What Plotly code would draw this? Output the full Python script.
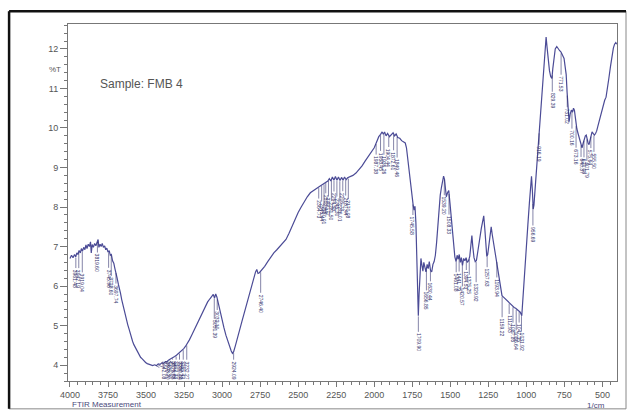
import numpy as np
import plotly.graph_objects as go

# ---- Spectrum data (wavenumber in 1/cm, %T) ----
wavenumber = [
    4000, 3990, 3980, 3970, 3962, 3955, 3948, 3940, 3932, 3925, 3918, 3910, 3902, 3895,
    3888, 3880, 3872, 3865, 3860, 3854, 3846, 3838, 3830, 3822, 3815, 3810, 3802, 3795,
    3788, 3780, 3772, 3765, 3758, 3750, 3742, 3735, 3728, 3720, 3712, 3705, 3698, 3690,
    3682, 3675, 3668, 3660, 3652, 3645, 3636, 3628, 3620, 3612, 3604, 3596, 3588, 3580,
    3572, 3564, 3555, 3546, 3536, 3525, 3514, 3503, 3492, 3480, 3468, 3456, 3444, 3432,
    3420, 3408, 3396, 3384, 3372, 3360, 3348, 3336, 3324, 3312, 3300, 3288, 3276, 3264,
    3252, 3240, 3228, 3215, 3200, 3185, 3170, 3155, 3140, 3125, 3110, 3095, 3080, 3068,
    3058, 3050, 3042, 3034, 3025, 3012, 3000, 2988, 2975, 2962, 2950, 2940, 2932, 2924,
    2912, 2898, 2884, 2870, 2856, 2842, 2828, 2815, 2802, 2790, 2780, 2772, 2764, 2755,
    2740, 2720, 2700, 2680, 2660, 2640, 2620, 2600, 2580, 2560, 2540, 2520, 2500, 2480,
    2460, 2440, 2420, 2400, 2380, 2360, 2345, 2330, 2318, 2305, 2295, 2285, 2275, 2265,
    2255, 2245, 2235, 2225, 2215, 2205, 2195, 2185, 2175, 2160, 2140, 2120, 2100, 2080,
    2060, 2040, 2020, 2000, 1985, 1970, 1958, 1948, 1940, 1932, 1922, 1912, 1900, 1888,
    1876, 1866, 1856, 1845, 1832, 1820, 1808, 1796, 1788, 1780, 1772, 1765, 1758, 1750,
    1744, 1738, 1732, 1726, 1720, 1715, 1710, 1705, 1700, 1693, 1686, 1680, 1674, 1667,
    1660, 1652, 1645, 1638, 1630, 1622, 1614, 1606, 1598, 1590, 1582, 1574, 1566, 1558,
    1550, 1544, 1538, 1532, 1526, 1518, 1510, 1502, 1496, 1490, 1484, 1477, 1470, 1462,
    1455, 1448, 1441, 1434, 1427, 1420, 1412, 1404, 1396, 1388, 1380, 1372, 1364, 1358,
    1352, 1344, 1336, 1328, 1320, 1312, 1304, 1296, 1288, 1280, 1272, 1266, 1260, 1254,
    1246, 1238, 1231, 1224, 1216, 1208, 1200, 1192, 1184, 1176, 1168, 1160, 1150, 1140,
    1130, 1120, 1110, 1100, 1090, 1080, 1070, 1060, 1050, 1040, 1030, 1020, 1010, 1000,
    990, 980, 972, 966, 960, 955, 950, 940, 930, 920, 912, 902, 892, 882,
    875, 870, 864, 856, 848, 840, 832, 826, 818, 810, 800, 792, 782, 772,
    762, 752, 745, 738, 732, 726, 719, 712, 704, 696, 690, 684, 676, 668,
    660, 654, 646, 640, 634, 626, 618, 612, 606, 600, 594, 588, 580, 574,
    568, 560, 552, 545, 538, 530, 522, 512, 503, 494, 485, 476, 466, 457,
    447, 437, 428, 420, 412, 406,
]
transmittance = [
    6.70, 6.78, 6.72, 6.80, 6.74, 6.84, 6.80, 6.90, 6.84, 6.95, 6.88, 6.98, 6.92, 7.04,
    6.95, 7.06, 7.00, 7.12, 6.84, 7.05, 6.98, 7.08, 7.02, 7.12, 7.18, 6.98, 7.06, 7.00,
    7.08, 6.98, 7.02, 6.92, 6.96, 6.86, 6.90, 6.78, 6.80, 6.64, 6.58, 6.45, 6.36, 6.20,
    6.05, 5.95, 5.82, 5.66, 5.52, 5.42, 5.28, 5.14, 5.02, 4.92, 4.80, 4.68, 4.60, 4.52,
    4.46, 4.40, 4.32, 4.27, 4.20, 4.16, 4.10, 4.07, 4.04, 4.02, 4.01, 3.99, 4.01, 3.99,
    4.03, 4.02, 4.06, 4.05, 4.09, 4.10, 4.14, 4.16, 4.20, 4.22, 4.25, 4.29, 4.33, 4.37,
    4.42, 4.48, 4.55, 4.64, 4.76, 4.88, 5.02, 5.14, 5.26, 5.38, 5.50, 5.60, 5.68, 5.76,
    5.79, 5.70, 5.80, 5.72, 5.56, 5.36, 5.16, 4.95, 4.76, 4.60, 4.46, 4.36, 4.30, 4.34,
    4.50, 4.68, 4.88, 5.10, 5.30, 5.50, 5.70, 5.92, 6.10, 6.24, 6.36, 6.42, 6.32, 6.34,
    6.40, 6.50, 6.62, 6.74, 6.84, 6.92, 7.00, 7.08, 7.18, 7.34, 7.52, 7.70, 7.86, 8.00,
    8.14, 8.26, 8.36, 8.42, 8.46, 8.52, 8.56, 8.60, 8.64, 8.66, 8.72, 8.66, 8.76, 8.68,
    8.77, 8.68, 8.76, 8.67, 8.75, 8.68, 8.76, 8.69, 8.74, 8.76, 8.80, 8.86, 8.94, 9.04,
    9.16, 9.28, 9.40, 9.50, 9.64, 9.78, 9.84, 9.90, 9.84, 9.90, 9.80, 9.86, 9.78, 9.84,
    9.88, 9.80, 9.85, 9.76, 9.74, 9.68, 9.66, 9.62, 9.50, 9.22, 8.95, 8.70, 8.45, 8.20,
    8.05, 7.92, 8.02, 7.60, 6.90, 6.10, 5.25, 5.80, 6.40, 6.70, 6.52, 6.38, 6.60, 6.42,
    6.36, 6.55, 6.44, 6.62, 6.40, 6.36, 6.55, 6.62, 6.78, 7.10, 7.60, 7.95, 8.30, 8.50,
    8.62, 8.78, 8.70, 8.40, 8.26, 8.36, 8.42, 8.10, 7.80, 7.50, 7.20, 6.95, 6.74, 6.62,
    6.78, 6.68, 6.80, 6.60, 6.72, 6.52, 6.70, 6.64, 6.72, 6.60, 6.64, 6.75, 7.05, 7.28,
    7.00, 6.72, 6.62, 6.65, 6.85, 7.10, 7.32, 7.46, 7.62, 7.78, 7.40, 7.05, 6.75, 6.80,
    7.10, 7.35, 7.50, 7.30, 7.10, 6.92, 6.75, 6.60, 6.36, 6.12, 5.92, 5.76, 5.72, 5.68,
    5.64, 5.60, 5.58, 5.54, 5.50, 5.46, 5.44, 5.40, 5.38, 5.34, 5.25, 5.90, 6.45, 7.02,
    7.55, 8.10, 8.55, 8.78, 8.40, 7.95, 8.05, 8.60, 9.15, 9.70, 10.10, 10.60, 11.15, 11.70,
    12.05, 12.30, 12.05, 11.70, 11.45, 11.30, 11.25, 11.50, 11.85, 12.00, 12.06, 12.00, 11.96, 11.92,
    11.84, 11.76, 11.55, 11.35, 10.90, 10.55, 10.16, 10.35, 10.45, 10.40, 10.50, 10.45, 10.12, 9.98,
    9.86, 9.76, 9.62, 9.58, 9.50, 9.62, 9.75, 9.80, 9.82, 9.70, 9.62, 9.58, 9.72, 9.84,
    9.90, 9.86, 9.82, 9.86, 9.92, 10.04, 10.16, 10.32, 10.50, 10.62, 10.70, 10.78, 11.00, 11.27,
    11.55, 11.85, 12.02, 12.12, 12.16, 12.12,
]

# ---- Peak labels ----
peak_labels = [
    "3961.48", "3942.19", "3919.04", "3819.60", "3745.96", "3728.60", "3697.74",
    "3442.08", "3425.30", "3398.20", "3375.05", "3350.12", "3325.55", "3302.33",
    "3280.04", "3255.42", "3232.27",
    "3051.39", "3032.10", "2924.09", "2746.40",
    "2364.73", "2345.44", "2330.01", "2318.44", "2300.72", "2281.50", "2264.58",
    "2245.30", "2226.01", "2206.73", "2187.44", "2170.08",
    "1987.38", "1958.45", "1936.26", "1904.44", "1872.61", "1849.46",
    "1745.58", "1709.90", "1656.85", "1630.44", "1539.20", "1508.33",
    "1461.08", "1441.79", "1420.57", "1394.53", "1375.25", "1329.92", "1257.63",
    "1193.94", "1159.22",
    "1112.93", "1087.85", "1066.64", "1047.35", "1031.92",
    "956.69", "916.19", "829.39", "771.53", "731.02", "700.16", "673.16",
    "640.37", "621.08", "601.79", "575.64", "555.50",
]

line_color = "#4b4b96"
label_color = "#33336e"
Y_MIN, Y_MAX = 3.6, 12.63
PX_PER_UNIT = 359 / (Y_MAX - Y_MIN)

fig = go.Figure()
fig.add_trace(go.Scatter(
    x=wavenumber, y=transmittance, mode="lines",
    line=dict(color=line_color, width=1.2), showlegend=False,
))

wn_inc = np.array(wavenumber[::-1], dtype=float)
t_inc = np.array(transmittance[::-1], dtype=float)

annotations = []
for i, lab in enumerate(peak_labels):
    w = float(lab)
    yv = float(np.interp(w, wn_inc, t_inc))
    ay = 22 + (i % 3) * 5
    space = (yv - Y_MIN) * PX_PER_UNIT
    ax = 0
    if ay > space - 11:
        ay = max(space - 11, 4)
        if ay < 12:
            ax = 6 + (i % 3) * 3
    annotations.append(dict(
        x=w, y=yv, xref="x", yref="y",
        text=lab, textangle=90,
        font=dict(family="Liberation Sans, Arial", size=5, color=label_color),
        showarrow=True, arrowhead=0, arrowwidth=0.6, arrowcolor=label_color,
        ax=ax, ay=ay, standoff=1,
    ))

annotations += [
    dict(text="%T", x=-0.038, y=0.89, xref="paper", yref="paper", showarrow=False,
         font=dict(family="Liberation Sans, Arial", size=8, color="#555555")),
    dict(text="Sample: FMB 4", x=0.0545, y=0.858, xref="paper", yref="paper",
         xanchor="left", showarrow=False,
         font=dict(family="Liberation Sans, Arial", size=12, color="#555555")),
    dict(text="FTIR Measurement", x=0.003, y=-0.048, xref="paper", yref="paper",
         xanchor="left", yanchor="top", showarrow=False,
         font=dict(family="Liberation Sans, Arial", size=8, color="#4a4a7a")),
    dict(text="1/cm", x=0.982, y=-0.05, xref="paper", yref="paper",
         xanchor="right", yanchor="top", showarrow=False,
         font=dict(family="Liberation Sans, Arial", size=8, color="#4a4a7a")),
]

shapes = [
    dict(type="rect", xref="paper", yref="paper", x0=-0.1073, x1=1.0164, y0=-0.078, y1=1.036,
         line=dict(color="#888888", width=1)),
    dict(type="line", xref="paper", yref="paper", x0=-0.1073, x1=1.0164, y0=1.036, y1=1.036,
         line=dict(color="#111111", width=2.5)),
    dict(type="line", xref="paper", yref="paper", x0=-0.1073, x1=-0.1073, y0=-0.078, y1=1.036,
         line=dict(color="#111111", width=2.5)),
]

axis_font = dict(family="Liberation Sans, Arial", size=9, color="#555555")
fig.update_layout(
    width=630, height=412,
    margin=dict(l=68, r=12, t=24, b=29),
    paper_bgcolor="white", plot_bgcolor="white",
    annotations=annotations, shapes=shapes,
    xaxis=dict(
        range=[4013, 404], tickmode="linear", tick0=500, dtick=250,
        showgrid=False, zeroline=False, showline=True, linecolor="#777777", linewidth=1,
        mirror=True, ticks="outside", ticklen=5, tickcolor="#777777", tickwidth=1,
        tickfont=axis_font,
        minor=dict(dtick=50, tick0=500, ticks="outside", ticklen=3, tickcolor="#777777", showgrid=False),
    ),
    yaxis=dict(
        range=[Y_MIN, Y_MAX], tickmode="linear", tick0=4, dtick=1,
        showgrid=False, zeroline=False, showline=True, linecolor="#777777", linewidth=1,
        mirror=True, ticks="outside", ticklen=7, tickcolor="#777777", tickwidth=1,
        tickfont=axis_font,
        minor=dict(dtick=0.2, tick0=4, ticks="outside", ticklen=3, tickcolor="#777777", showgrid=False),
    ),
)

fig.write_html("out.html")
